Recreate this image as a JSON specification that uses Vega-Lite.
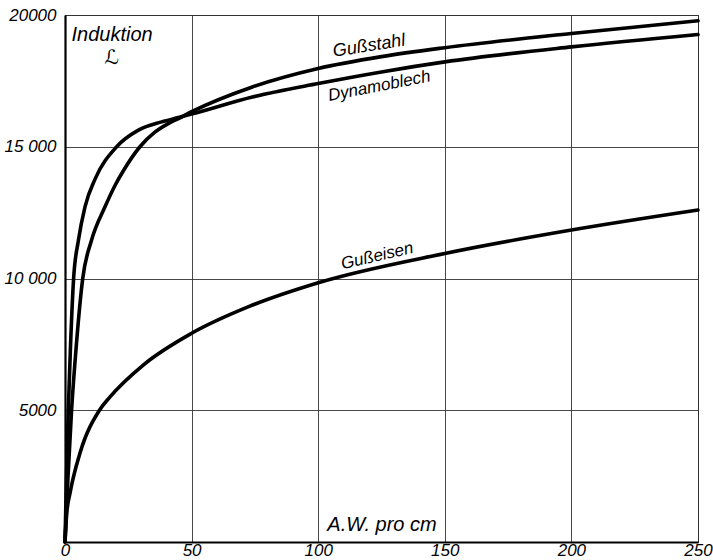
{
  "$schema": "https://vega.github.io/schema/vega-lite/v6.json",
  "width": 633,
  "height": 527,
  "autosize": {"type": "none"},
  "padding": {"left": 65, "top": 15, "right": 15, "bottom": 18},
  "background": "white",
  "config": {
    "view": {"stroke": "#222", "strokeWidth": 1},
    "font": "Liberation Sans",
    "axis": {"labelFont": "Liberation Sans", "labelFontStyle": "italic", "labelColor": "black", "labelFontSize": 17, "gridColor": "#333", "gridWidth": 0.9, "gridOpacity": 1, "domainColor": "black", "ticks": false}
  },
  "datasets": {
    "curves": [
      {"series": "Dynamoblech", "aw": 0, "b": 0},
      {"series": "Dynamoblech", "aw": 0.6, "b": 2500},
      {"series": "Dynamoblech", "aw": 1.3, "b": 5000},
      {"series": "Dynamoblech", "aw": 2.2, "b": 7500},
      {"series": "Dynamoblech", "aw": 3.4, "b": 10000},
      {"series": "Dynamoblech", "aw": 5.3, "b": 11450},
      {"series": "Dynamoblech", "aw": 7.9, "b": 12720},
      {"series": "Dynamoblech", "aw": 12, "b": 13800},
      {"series": "Dynamoblech", "aw": 20.4, "b": 15000},
      {"series": "Dynamoblech", "aw": 29, "b": 15630},
      {"series": "Dynamoblech", "aw": 38.2, "b": 15945},
      {"series": "Dynamoblech", "aw": 44.8, "b": 16110},
      {"series": "Dynamoblech", "aw": 50, "b": 16240},
      {"series": "Dynamoblech", "aw": 74, "b": 16890},
      {"series": "Dynamoblech", "aw": 100, "b": 17400},
      {"series": "Dynamoblech", "aw": 125, "b": 17840},
      {"series": "Dynamoblech", "aw": 150, "b": 18220},
      {"series": "Dynamoblech", "aw": 200, "b": 18790},
      {"series": "Dynamoblech", "aw": 250, "b": 19260},
      {"series": "Gußstahl", "aw": 0, "b": 0},
      {"series": "Gußstahl", "aw": 1.2, "b": 2500},
      {"series": "Gußstahl", "aw": 2.6, "b": 5000},
      {"series": "Gußstahl", "aw": 4.5, "b": 7500},
      {"series": "Gußstahl", "aw": 7.0, "b": 10000},
      {"series": "Gußstahl", "aw": 10.5, "b": 11460},
      {"series": "Gußstahl", "aw": 15.8, "b": 12720},
      {"series": "Gußstahl", "aw": 19.8, "b": 13540},
      {"series": "Gußstahl", "aw": 23, "b": 14080},
      {"series": "Gußstahl", "aw": 29.6, "b": 15000},
      {"series": "Gußstahl", "aw": 35.6, "b": 15565},
      {"series": "Gußstahl", "aw": 40.8, "b": 15880},
      {"series": "Gußstahl", "aw": 44.8, "b": 16070},
      {"series": "Gußstahl", "aw": 50, "b": 16330},
      {"series": "Gußstahl", "aw": 74, "b": 17270},
      {"series": "Gußstahl", "aw": 100, "b": 17970},
      {"series": "Gußstahl", "aw": 125, "b": 18420},
      {"series": "Gußstahl", "aw": 150, "b": 18760},
      {"series": "Gußstahl", "aw": 200, "b": 19300},
      {"series": "Gußstahl", "aw": 250, "b": 19780},
      {"series": "Gußeisen", "aw": 0, "b": 0},
      {"series": "Gußeisen", "aw": 0.7, "b": 1100},
      {"series": "Gußeisen", "aw": 2, "b": 1860},
      {"series": "Gußeisen", "aw": 5.9, "b": 3365},
      {"series": "Gußeisen", "aw": 13.6, "b": 5000},
      {"series": "Gußeisen", "aw": 17.8, "b": 5510},
      {"series": "Gußeisen", "aw": 30.9, "b": 6715},
      {"series": "Gußeisen", "aw": 50, "b": 7920},
      {"series": "Gußeisen", "aw": 73, "b": 8950},
      {"series": "Gußeisen", "aw": 100, "b": 9840},
      {"series": "Gußeisen", "aw": 150, "b": 10950},
      {"series": "Gußeisen", "aw": 200, "b": 11840},
      {"series": "Gußeisen", "aw": 250, "b": 12600}
    ],
    "labels": [
      {"name": "Gußstahl", "aw": 120.1, "b": 18816},
      {"name": "Dynamoblech", "aw": 124.1, "b": 17299},
      {"name": "Gußeisen", "aw": 123.3, "b": 10850},
      {"name": "Induktion", "aw": 18.6, "b": 19230},
      {"name": "ℒ", "aw": 18.4, "b": 18360},
      {"name": "A.W. pro cm", "aw": 125.2, "b": 645}
    ]
  },
  "layer": [
    {
      "data": {"name": "curves"},
      "mark": {"type": "line", "interpolate": "monotone", "color": "black", "strokeWidth": 3.6, "strokeCap": "round"},
      "encoding": {
        "x": {"field": "aw", "type": "quantitative", "scale": {"domain": [0, 250], "nice": false}, "axis": {"values": [0, 50, 100, 150, 200, 250], "title": null, "grid": true, "domainWidth": 2.2, "labelPadding": 0, "labelFlush": false, "labelFontStyle": "italic", "labelFont": "Liberation Sans"}},
        "y": {"field": "b", "type": "quantitative", "scale": {"domain": [0, 20000], "nice": false}, "axis": {"values": [5000, 10000, 15000, 20000], "format": "d", "labelExpr": "datum.value == 10000 ? '10 000' : datum.value == 15000 ? '15 000' : datum.label", "title": null, "grid": true, "domainWidth": 2.2, "labelPadding": 9, "labelFontStyle": "italic", "labelFont": "Liberation Sans"}},
        "detail": {"field": "series"}
      }
    },
    {
      "data": {"name": "labels"},
      "transform": [{"filter": "datum.name == 'Gußstahl'"}],
      "mark": {"type": "text", "font": "Liberation Sans", "fontStyle": "italic", "fontSize": 18, "angle": -9, "align": "center", "baseline": "middle", "color": "black"},
      "encoding": {"x": {"field": "aw", "type": "quantitative"}, "y": {"field": "b", "type": "quantitative"}, "text": {"field": "name"}}
    },
    {
      "data": {"name": "labels"},
      "transform": [{"filter": "datum.name == 'Dynamoblech'"}],
      "mark": {"type": "text", "font": "Liberation Sans", "fontStyle": "italic", "fontSize": 17, "angle": -11, "align": "center", "baseline": "middle", "color": "black"},
      "encoding": {"x": {"field": "aw", "type": "quantitative"}, "y": {"field": "b", "type": "quantitative"}, "text": {"field": "name"}}
    },
    {
      "data": {"name": "labels"},
      "transform": [{"filter": "datum.name == 'Gußeisen'"}],
      "mark": {"type": "text", "font": "Liberation Sans", "fontStyle": "italic", "fontSize": 17, "angle": -13, "align": "center", "baseline": "middle", "color": "black"},
      "encoding": {"x": {"field": "aw", "type": "quantitative"}, "y": {"field": "b", "type": "quantitative"}, "text": {"field": "name"}}
    },
    {
      "data": {"name": "labels"},
      "transform": [{"filter": "datum.name == 'Induktion' || datum.name == 'A.W. pro cm'"}],
      "mark": {"type": "text", "font": "Liberation Sans", "fontStyle": "italic", "fontSize": 20, "align": "center", "baseline": "middle", "color": "black"},
      "encoding": {"x": {"field": "aw", "type": "quantitative"}, "y": {"field": "b", "type": "quantitative"}, "text": {"field": "name"}}
    },
    {
      "data": {"name": "labels"},
      "transform": [{"filter": "datum.name == 'ℒ'"}],
      "mark": {"type": "text", "font": "DejaVu Sans", "fontStyle": "italic", "fontSize": 20, "align": "center", "baseline": "middle", "color": "black"},
      "encoding": {"x": {"field": "aw", "type": "quantitative"}, "y": {"field": "b", "type": "quantitative"}, "text": {"field": "name"}}
    }
  ]
}
